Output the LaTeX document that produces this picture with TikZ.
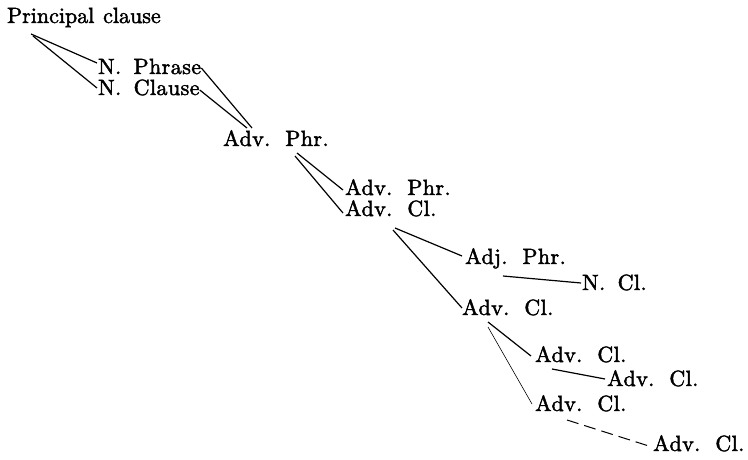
\documentclass[tikz,border=0pt]{standalone}
\usepackage{fontspec}
\newfontfamily\lblfont{lmroman10-regular.otf}[LetterSpace=2,WordSpace=1.6,FakeBold=2]
\newfontfamily\pcfont{lmroman10-regular.otf}[WordSpace=1.2,FakeBold=2]
\begin{document}
\begin{tikzpicture}[x=1pt,y=-1pt,
  lbl/.style={anchor=base west, inner sep=0pt, font=\lblfont\fontsize{22}{24}\selectfont},
  toplbl/.style={lbl, font=\pcfont\fontsize{22}{24}\selectfont},
  con/.style={line width=1.2pt},
  thincon/.style={line width=0.6pt},
  dashcon/.style={line width=1pt, dash pattern=on 12pt off 6pt}]
\useasboundingbox (0,0) rectangle (748,460);
\node[toplbl] (pc)  at (7,23)   {Principal clause};
\node[lbl] (np)  at (98,74)  {N. Phrase};
\node[lbl] (nc)  at (98,95)  {N. Clause};
\node[lbl] (ap1) at (223,146) {Adv. Phr.};
\node[lbl] (ap2) at (345,195) {Adv. Phr.};
\node[lbl] (ac1) at (345,216) {Adv. Cl.};
\node[lbl] (adj) at (465,264) {Adj. Phr.};
\node[lbl] (ncl) at (582,290) {N. Cl.};
\node[lbl] (ac2) at (462,315) {Adv. Cl.};
\node[lbl] (ac3) at (535,362) {Adv. Cl.};
\node[lbl] (ac4) at (607,386) {Adv. Cl.};
\node[lbl] (ac5) at (535,411) {Adv. Cl.};
\node[lbl] (ac6) at (653,451) {Adv. Cl.};
\draw[con] ([shift={(24,11)}]pc.base west) -- ([shift={(-1,-11)}]np.base west);
\draw[con] ([shift={(26,13)}]pc.base west) -- ([shift={(-1,-7)}]nc.base west);
\draw[con] ([shift={(0,-6)}]np.base east) -- ([shift={(29,-18)}]ap1.base west);
\draw[con] ([shift={(0,-5)}]nc.base east) -- ([shift={(24,-18)}]ap1.base west);
\draw[con] ([shift={(74,7)}]ap1.base west) -- ([shift={(-2,-5)}]ap2.base west);
\draw[con] ([shift={(72,10)}]ap1.base west) -- ([shift={(-2,-3)}]ac1.base west);
\draw[con] ([shift={(50,12)}]ac1.base west) -- ([shift={(-3,-8)}]adj.base west);
\draw[con] ([shift={(48,14)}]ac1.base west) -- ([shift={(0,-7)}]ac2.base west);
\draw[con] ([shift={(38,12)}]adj.base west) -- ([shift={(-1,-7)}]ncl.base west);
\draw[con] ([shift={(26,7)}]ac2.base west) -- ([shift={(-4,-6)}]ac3.base west);
\draw[thincon] ([shift={(26,12)}]ac2.base west) -- ([shift={(-3,-7)}]ac5.base west);
\draw[con] ([shift={(17,7)}]ac3.base west) -- ([shift={(-2,-7)}]ac4.base west);
\draw[dashcon] ([shift={(32,9)}]ac5.base west) -- ([shift={(-1,-4)}]ac6.base west);
\end{tikzpicture}
\end{document}
